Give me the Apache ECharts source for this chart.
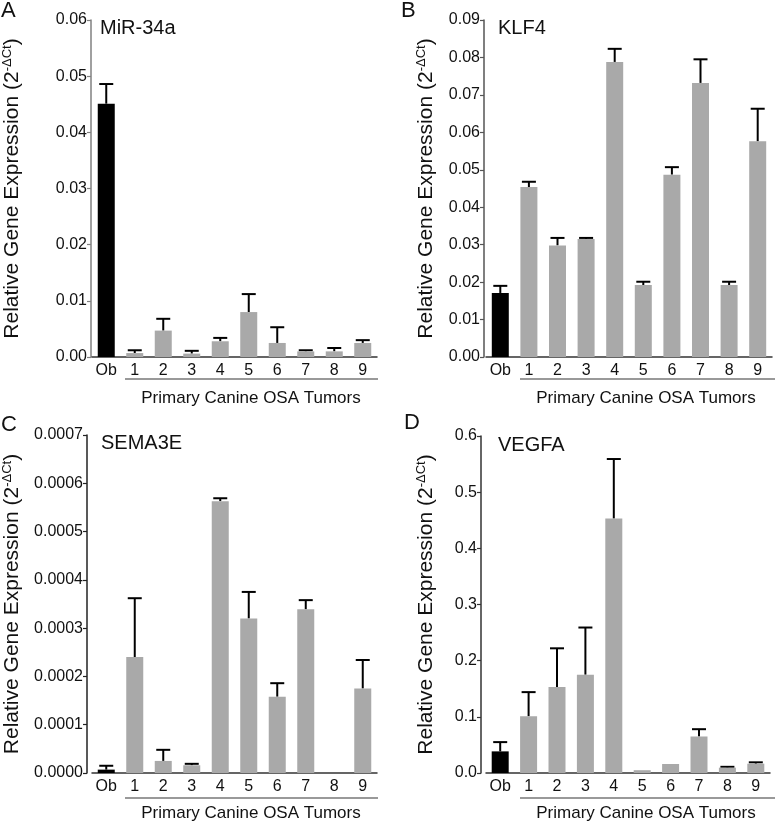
<!DOCTYPE html>
<html><head><meta charset="utf-8">
<script src="https://cdn.jsdelivr.net/npm/echarts@6/dist/echarts.min.js"></script>
<style>html,body{margin:0;padding:0;background:#fff}#c{width:775px;height:822px}</style>
</head><body><div id="c"></div>
<script>
const categories = ['Ob','1','2','3','4','5','6','7','8','9'];
const mir34aMean = [0.0451,0.0007,0.0047,0.0006,0.0028,0.0080,0.0025,0.0010,0.0010,0.0025];
const mir34aErr  = [0.0035,0.0005,0.0021,0.0005,0.0006,0.0032,0.0028,0.0002,0.0006,0.0005];
const klf4Mean = [0.0171,0.0454,0.0298,0.0315,0.0788,0.0192,0.0487,0.0732,0.0192,0.0576];
const klf4Err  = [0.0019,0.0014,0.0020,0.0003,0.0035,0.0009,0.0020,0.0063,0.0009,0.0087];
const sema3eMean = [0.000007,0.000240,0.000025,0.000016,0.000563,0.000320,0.000158,0.000339,0,0.000175];
const sema3eErr  = [0.000008,0.000122,0.000023,0.000003,0.000006,0.000055,0.000028,0.000019,0,0.000059];
const vegfaMean = [0.0385,0.101,0.153,0.175,0.453,0.005,0.016,0.065,0.0095,0.0166];
const vegfaErr  = [0.0165,0.043,0.069,0.084,0.106,0,0,0.013,0.0015,0.0024];
const yTicksA = {max:0.06, interval:0.01, dec:2};
const yTicksB = {max:0.09, interval:0.01, dec:2};
const yTicksC = {max:0.0007, interval:0.0001, dec:4};
const yTicksD = {max:0.6, interval:0.1, dec:1};
const geneNames = ['MiR-34a','KLF4','SEMA3E','VEGFA'];
const panelLetters = ['A','B','C','D'];
const groupLabel = 'Primary Canine OSA Tumors';

const FONT = '"Liberation Sans", Arial, sans-serif';
const panels = [
  {mean:mir34aMean, err:mir34aErr, ticks:yTicksA, grid:{left:91,top:20,width:286,height:337}, off:1, axisColor:'#808080', gap:68},
  {mean:klf4Mean, err:klf4Err, ticks:yTicksB, grid:{left:486,top:20,width:286,height:337}, off:2, axisColor:'#555', gap:47},
  {mean:sema3eMean, err:sema3eErr, ticks:yTicksC, grid:{left:91,top:435,width:286,height:338}, off:5, axisColor:'#222', gap:64},
  {mean:vegfaMean, err:vegfaErr, ticks:yTicksD, grid:{left:486,top:436,width:284,height:337}, off:5, axisColor:'#333', gap:44}
];

const grids=[], xAxes=[], yAxes=[], series=[];
panels.forEach((p,i)=>{
  grids.push(Object.assign({containLabel:false}, p.grid));
  xAxes.push({type:'category', gridIndex:i, data:categories, boundaryGap:true,
    axisLine:{lineStyle:{color:'#333',width:1.5}}, axisTick:{show:false},
    axisLabel:{color:'#111', fontSize:16, fontFamily:FONT, margin:6}});
  yAxes.push({type:'value', gridIndex:i, min:0, max:p.ticks.max, interval:p.ticks.interval, offset:p.off,
    splitLine:{show:false},
    axisLine:{show:true, lineStyle:{color:p.axisColor,width:1.5}},
    axisTick:{show:true, length:4, lineStyle:{color:p.axisColor,width:1.2}},
    axisLabel:{color:'#111', fontSize:16, fontFamily:FONT, margin:4,
      formatter:(v)=>v.toFixed(p.ticks.dec)},
    name:'{a|Relative Gene Expression (2}{s|-ΔCt}{a|)}', nameLocation:'middle', nameRotate:90,
    nameGap:p.gap,
    nameTextStyle:{rich:{a:{fontSize:21,fontFamily:FONT,color:'#111'}, s:{fontSize:13,fontFamily:FONT,color:'#111',verticalAlign:'top',padding:[0,0,9,0]}}}});
  series.push({type:'bar', xAxisIndex:i, yAxisIndex:i, barWidth:17,
    data:p.mean.map((v,k)=>({value:v, itemStyle:{color: k===0 ? '#000' : '#a9a9a9'}})), silent:true});
  series.push({type:'custom', xAxisIndex:i, yAxisIndex:i, silent:true, z:1,
    data:p.mean.map((v,k)=>[k, v, v + p.err[k], p.err[k]]),
    renderItem:(params, api)=>{
      if (api.value(3) <= 0) return null;
      const a = api.coord([api.value(0), api.value(1)]);
      const b = api.coord([api.value(0), api.value(2)]);
      const hw = 7;
      return {type:'group', children:[
        {type:'line', shape:{x1:a[0],y1:a[1],x2:b[0],y2:b[1]}, style:{stroke:'#000',lineWidth:2}},
        {type:'line', shape:{x1:b[0]-hw,y1:b[1],x2:b[0]+hw,y2:b[1]}, style:{stroke:'#000',lineWidth:2}}
      ]};
    }});
});

const graphics = [];
const letterPos = [[1,0],[401,0],[1,414],[404,412]];
const titlePos = [[100,18],[498,18],[101,433],[498,435]];
const linePos = [[125,379,378],[520,379,775],[125,798,378],[520,798,775]];
const textPos = [[251,398],[646,398],[251,813],[646,813]];
for (let i=0;i<4;i++){
  graphics.push({type:'text', left:letterPos[i][0], top:letterPos[i][1], style:{text:panelLetters[i], fontSize:22, fontFamily:FONT, fill:'#111'}});
  graphics.push({type:'text', left:titlePos[i][0], top:titlePos[i][1], style:{text:geneNames[i], fontSize:20, fontFamily:FONT, fill:'#111'}});
  graphics.push({type:'line', shape:{x1:linePos[i][0],y1:linePos[i][1],x2:linePos[i][2],y2:linePos[i][1]}, style:{stroke:'#777',lineWidth:1.5}});
  graphics.push({type:'text', x:textPos[i][0], y:textPos[i][1], style:{text:groupLabel, fontSize:17, fontFamily:FONT, fill:'#111', textAlign:'center', textVerticalAlign:'middle'}});
}

const chart = echarts.init(document.getElementById('c'), null, {renderer:'canvas'});
chart.setOption({animation:false, backgroundColor:'#fff', grid:grids, xAxis:xAxes, yAxis:yAxes, series:series, graphic:graphics});
</script></body></html>
